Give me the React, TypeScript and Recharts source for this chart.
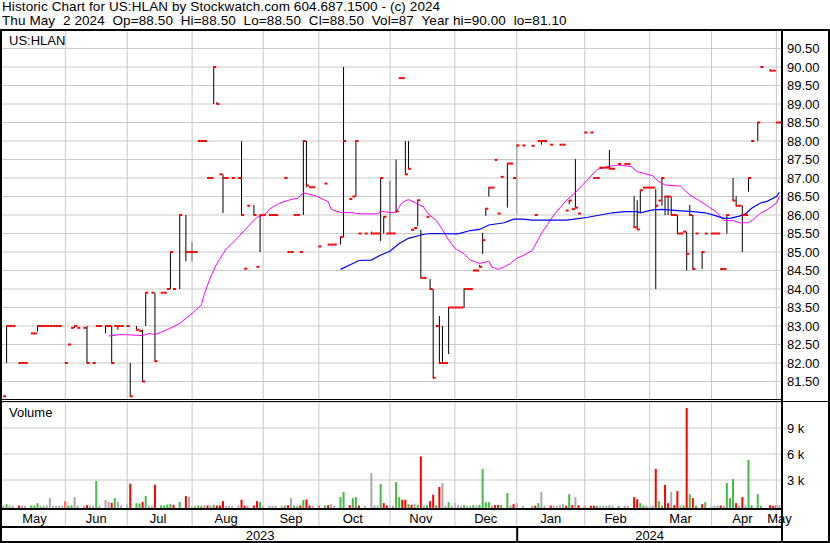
import React from 'react';
import {
  Bar,
  CartesianGrid,
  ComposedChart,
  Line,
  ReferenceLine,
  Scatter,
  XAxis,
  YAxis,
} from 'recharts';

const FONT = '"Liberation Sans", Arial, sans-serif';
const GRID = '#c8c8c8';
const RED = '#ff0000';
const GREEN = '#44bb44';
const GRAY = '#a8a8a8';

// one entry per trading day, 3 May 2023 .. 2 May 2024 (null = no trade)
const closes: (number | null)[] = [
  81.1, 83, 83, 83, null, 82, 82, 82, null, 82.8,
  82.8, 83, 83, 83, 83, 83, 83, 83, 83, null,
  82, 82.5, 82.95, 83, 82.95, null, 82.95, 82, null, 82,
  83, 83, null, 83, 83, 82, 83, 83, 83, null,
  83, 81.1, null, 82.9, 82.87, 81.5, 83.9, null, 83.9, 82.05,
  null, 83.9, 83.9, 84, 85, 84, null, 86, null, 85,
  85, 85, 85, 88, 88, 88, 87, 87, 90, 89,
  87.1, 87, 87, null, 87, null, 87, 86, 84.55, 86.25,
  null, 86, 84.6, 86, 86, null, 86, 86, 86, null,
  null, 87, 85, 85, 86, 86, 85, 88, 86.8, 86.75,
  86.75, null, 85.15, null, 86.85, 85.2, 85.2, 85.2, null, 85.4,
  88, null, 86.43, 86.5, 88, 85.5, null, 85.5, null, 85.5,
  85.5, 85.5, 87, 85.95, 85.5, 85.5, 85.5, 86.1, 89.7, 89.7,
  87.1, 87.25, 85.6, 85.65, 86.4, 84.3, 84.3, 85.95, 84, 81.6,
  83, 82, 82, 82, 83.5, 83.5, 83.5, 83.5, 83.5, 84,
  84, 84, 84.5, 84.5, 84.6, 85.32, 86.17, 86.74, 86.74, 87.49,
  86.04, 87.03, null, 87.39, 87.39, 87, 87.88, null, 87.88, null,
  null, 87.87, 86, 88, 88, 88, null, 87.9, null, null,
  87.9, 87.9, 86.12, 86.39, 86.16, 86.2, 86.04, null, 88.23, null,
  88.23, 87, 87, 87.28, 87.28, 87.28, 87.25, 87.25, null, 87.38,
  null, 87.38, 87.38, null, 85.67, 85.61, 86.67, 86.74, 86.74, 86.74,
  86.74, 86.25, 86.39, 87, 86.5, 86.5, 86, 86, 85.5, 85.5,
  85.55, 84.95, 86, 84.54, 85.5, null, 85, 85.5, null, 85.5,
  85.5, 85.5, 84.54, 84.54, 86, null, 86.39, 86.25, 86.25, 86,
  86, 87, 88, null, 88.5, 90, null, null, 89.9, 89.9,
  88.5, 88.5,
];

// [day, high, low] for days that traded in a range
const wicks: [number, number, number][] = [
  [1, 83, 82], [11, 83, 82.85], [23, 83, 82.95], [27, 83, 82], [33, 83, 82.8],
  [35, 83, 82], [37, 83, 82.9], [41, 82, 81.1], [43, 83, 82.9], [45, 82.9, 81.5],
  [46, 83.9, 83], [49, 83.9, 82.05], [54, 85, 84], [57, 86, 84], [59, 86, 84.75],
  [61, 85.27, 84.75], [68, 90, 89], [69, 89.05, 89], [71, 87.1, 86.05], [77, 88, 86],
  [81, 86.27, 86], [83, 86, 85], [97, 88, 86], [98, 88, 86.75], [109, 85.4, 85.2],
  [110, 90, 85.4], [114, 88, 86.5], [119, 85.55, 85.5], [122, 87, 85.3], [123, 85.95, 85.5],
  [125, 86.92, 85.5], [127, 87.5, 86.06], [130, 88, 87.1], [131, 88, 87.25], [134, 86.4, 85.7],
  [135, 85.6, 84.3], [138, 84.27, 84], [139, 84, 81.6], [141, 83.27, 81.97], [142, 83, 82],
  [144, 83.5, 82.24], [149, 84, 83.5], [154, 84.65, 84.6], [155, 85.52, 84.95], [156, 86.17, 85.98],
  [157, 86.74, 86.5], [163, 87.39, 86.2], [166, 87.88, 86.02], [174, 88, 87.9], [183, 86.4, 86.3],
  [185, 87.51, 86.18], [193, 87.3, 87.25], [196, 87.76, 87.24], [204, 86.51, 85.66], [205, 86.4, 85.61],
  [206, 86.67, 86.06], [211, 86.7, 84], [213, 87, 86.25], [214, 86.51, 86], [215, 86.5, 86],
  [216, 86.5, 86], [218, 86, 85.5], [221, 85.55, 84.5], [222, 86.27, 86], [223, 86, 84.54],
  [226, 85, 84.54], [234, 86, 85.5], [236, 87, 86.39], [237, 86.51, 86.25], [239, 86.25, 85],
  [241, 87, 86.63], [244, 88.5, 88], [248, 89.95, 89.9],
];

const volumes: number[] = [
  60, 210, 40, 40, 0, 60, 30, 30, 0, 60,
  60, 330, 30, 30, 60, 910, 30, 30, 30, 30,
  560, 60, 60, 1025, 30, 0, 30, 100, 30, 30,
  2880, 30, 0, 680, 480, 370, 910, 480, 60, 0,
  210, 2570, 0, 330, 290, 480, 1140, 30, 30, 2450,
  0, 60, 60, 170, 250, 140, 0, 450, 0, 1140,
  1060, 30, 30, 60, 30, 100, 60, 30, 140, 60,
  60, 560, 30, 30, 30, 0, 60, 720, 60, 30,
  0, 60, 560, 480, 30, 0, 30, 30, 30, 0,
  30, 40, 100, 910, 60, 30, 60, 680, 750, 60,
  30, 0, 60, 0, 60, 100, 210, 30, 0, 1025,
  1600, 0, 100, 910, 1025, 60, 0, 30, 0, 3810,
  60, 40, 2530, 330, 60, 60, 30, 2760, 1025, 716,
  716, 210, 140, 210, 140, 5710, 30, 100, 560, 1300,
  100, 2190, 2650, 30, 445, 30, 330, 100, 30, 100,
  30, 30, 100, 30, 100, 4280, 445, 445, 30, 100,
  100, 100, 0, 1490, 30, 210, 330, 0, 30, 0,
  0, 30, 30, 330, 1600, 30, 0, 60, 30, 30,
  100, 210, 30, 1370, 100, 1025, 100, 0, 30, 0,
  30, 30, 30, 30, 30, 30, 100, 30, 0, 30,
  0, 30, 30, 0, 1025, 790, 330, 60, 30, 30,
  30, 4280, 560, 60, 2420, 330, 1600, 100, 1720, 30,
  100, 11320, 1370, 910, 60, 0, 210, 445, 0, 30,
  30, 30, 60, 30, 2650, 910, 3100, 330, 30, 1025,
  30, 5320, 100, 0, 1370, 30, 0, 0, 100, 30,
  100, 87,
];

// g = up day, r = down day, n = unchanged
const volumeColors = [
  'ngnnnrnnng', 'ggnnnnnnnn', 'rggnnnnrnn', 'gnnnnrgnnn', 'nrnggrgnnr',
  'nggggrngnr', 'nnnggnrngr', 'rrnnnnnrrn', 'nrrgnnnnnn', 'ngrngnrgrr',
  'nnrngrnnng', 'gnrggrnnnn', 'nngrrnnggr', 'rgrngrngrr', 'grnngnnnng',
  'nngnggggnr', 'rgngnrgnnn', 'nnrgnnnrnn', 'nnrgrnrngn', 'rrgnnnnnng',
  'nnnnrrggnn', 'nrggrrnrrn', 'grgrgnrgnn', 'nnrngggrnr', 'nggnggnnrr',
  'rn',
].join('');

// moving averages read at sample days
const pinkMA: [number, number][] = [
  [34, 82.73], [38, 82.77], [41, 82.76], [45, 82.74], [47, 82.8], [49, 82.77], [53, 82.9],
  [57, 83.07], [61, 83.34], [64, 83.57], [65, 83.88], [67, 84.33], [69, 84.69], [72, 85.08],
  [75, 85.32], [79, 85.68], [82, 85.94], [84, 85.99], [85, 86.05], [86, 86.16], [89, 86.31],
  [93, 86.42], [95, 86.45], [97, 86.6], [100, 86.54], [102, 86.48], [105, 86.36], [106, 86.15],
  [109, 86.07], [113, 86.06], [115, 86.03], [121, 86.03], [122, 86.1], [126, 86.06], [127, 86.09],
  [129, 86.34], [131, 86.42], [134, 86.3], [136, 86.21], [137, 86.06], [140, 85.85], [142, 85.6],
  [144, 85.32], [146, 85.1], [149, 84.95], [151, 84.78], [154, 84.69], [155, 84.71], [157, 84.75],
  [158, 84.59], [160, 84.53], [162, 84.6], [164, 84.69], [166, 84.83], [168, 84.9], [171, 85.04],
  [174, 85.5], [176, 85.75], [178, 86.0], [182, 86.39], [185, 86.61], [189, 86.96], [192, 87.23],
  [196, 87.32], [199, 87.35], [203, 87.31], [205, 87.17], [207, 87.13], [210, 87.06], [212, 86.9],
  [214, 86.81], [219, 86.78], [222, 86.54], [225, 86.39], [228, 86.23], [231, 86.05], [233, 85.85],
  [236, 85.85], [238, 85.79], [241, 85.79], [243, 85.91], [245, 86.06], [247, 86.14], [250, 86.32],
  [251, 86.5],
];

const blueMA: [number, number][] = [
  [109, 84.53], [113, 84.69], [115, 84.77], [119, 84.78], [122, 84.92], [125, 85.02], [128, 85.23],
  [131, 85.37], [136, 85.48], [138, 85.5], [147, 85.49], [151, 85.58], [154, 85.61], [157, 85.73],
  [162, 85.79], [165, 85.89], [168, 85.89], [171, 85.86], [182, 85.86], [184, 85.88], [189, 85.94],
  [193, 86.0], [197, 86.06], [201, 86.09], [205, 86.09], [206, 86.06], [210, 86.14], [213, 86.15],
  [218, 86.12], [223, 86.09], [227, 86.06], [230, 85.99], [233, 85.91], [235, 85.91], [238, 85.97],
  [240, 86.03], [242, 86.18], [245, 86.33], [247, 86.37], [250, 86.5], [251, 86.61],
];

const monthStarts = [20, 40, 61, 84, 102, 125, 146, 166, 188, 209, 229, 250];
const monthNames = ['May', 'Jun', 'Jul', 'Aug', 'Sep', 'Oct', 'Nov', 'Dec', 'Jan', 'Feb', 'Mar', 'Apr', 'May'];
const yearStarts = [0, 166];
const yearNames = ['2023', '2024'];
const priceTicks = [81.5, 82, 82.5, 83, 83.5, 84, 84.5, 85, 85.5, 86, 86.5, 87, 87.5, 88, 88.5, 89, 89.5, 90, 90.5];
const volumeTicks = [3000, 6000, 9000];

const N = closes.length;

const rows = closes.map((c, i) => ({
  i,
  c,
  hl: null as [number, number] | null,
  v: volumes[i],
  vc: volumeColors[i],
  pm: null as number | null,
  bm: null as number | null,
}));
wicks.forEach(([k, h, l]) => { rows[k].hl = [l, h]; });
pinkMA.forEach(([k, v]) => { rows[k].pm = v; });
blueMA.forEach(([k, v]) => { rows[k].bm = v; });

const monthLabelAt: Record<number, string> = {};
const mb = [0, ...monthStarts, N];
monthNames.forEach((m, j) => { monthLabelAt[Math.floor((mb[j] + mb[j + 1]) / 2)] = m; });
const yearLabelAt: Record<number, string> = {};
const yb = [...yearStarts, N];
yearNames.forEach((y, j) => { yearLabelAt[Math.floor((yb[j] + yb[j + 1]) / 2)] = y; });

function WickShape(p: any) {
  const { x, y, width, height } = p;
  if (p.payload?.hl == null || !isFinite(y)) return <g />;
  const cx = x + width / 2;
  return <rect x={cx - 0.5} y={y} width={1} height={Math.max(height, 1)} fill="#000" />;
}

function CloseShape(p: any) {
  const { cx, cy, payload } = p;
  if (!payload || payload.c == null || !isFinite(cy)) return <g />;
  return <rect x={cx - 0.5} y={cy - 1} width={3} height={2} fill={RED} />;
}

function VolumeShape(p: any) {
  const { x, y, width, height, payload } = p;
  if (!payload || !payload.v) return <g />;
  const fill = payload.vc === 'g' ? GREEN : payload.vc === 'r' ? RED : GRAY;
  return <rect x={x - 0.5} y={y} width={width} height={height + 3} fill={fill} />;
}

function MonthTick(p: any) {
  const { x, y } = p;
  const k = p.payload.value;
  return (
    <g>
      {monthStarts.includes(k) && <line x1={x} x2={x} y1={y} y2={y + 17} stroke={GRID} />}
      {monthLabelAt[k] && (
        <text x={x} y={y + 14} textAnchor="middle" fontSize={13} fill="#000" fontFamily={FONT}>
          {monthLabelAt[k]}
        </text>
      )}
    </g>
  );
}

function YearTick(p: any) {
  const { x, y } = p;
  const k = p.payload.value;
  return (
    <g>
      {k !== 0 && yearStarts.includes(k) && <rect x={x - 0.5} y={y} width={2} height={15} fill="#000" />}
      {yearLabelAt[k] && (
        <text x={x} y={y + 12.5} textAnchor="middle" fontSize={13} fill="#000" fontFamily={FONT}>
          {yearLabelAt[k]}
        </text>
      )}
    </g>
  );
}

const hline = (top: number, width: number, h = 2) => (
  <div style={{ position: 'absolute', left: 0, top, width, height: h, background: '#000' }} />
);
const vline = (left: number) => (
  <div style={{ position: 'absolute', left, top: 30, width: 2, height: 513, background: '#000' }} />
);

export default function App() {
  const tickStyle = { fill: '#000', fontSize: 13, fontFamily: FONT };
  return (
    <div style={{ position: 'absolute', left: 0, top: 0, width: 830, height: 543, background: '#fff', overflow: 'hidden', fontFamily: FONT }}>
      <div style={{ position: 'absolute', top: 0 }}>
        <ComposedChart width={830} height={400} data={rows} margin={{ top: 30, right: 0, bottom: 0, left: 2 }}>
          <CartesianGrid vertical={false} stroke={GRID} />
          {monthStarts.map((k) => <ReferenceLine key={k} x={k} stroke={GRID} />)}
          <XAxis dataKey="i" type="category" hide />
          <YAxis
            orientation="right"
            domain={[81, 91]}
            allowDataOverflow
            ticks={priceTicks}
            interval={0}
            width={49}
            axisLine={false}
            tickLine={false}
            tickSize={6}
            tickMargin={0}
            tick={tickStyle}
            tickFormatter={(v: number) => v.toFixed(2)}
          />
          <Bar dataKey="hl" barSize={1} shape={WickShape} isAnimationActive={false} />
          <Scatter dataKey="c" shape={CloseShape} isAnimationActive={false} />
          <Line dataKey="pm" type="linear" connectNulls dot={false} stroke="#ff00ff" strokeWidth={1} isAnimationActive={false} />
          <Line dataKey="bm" type="linear" connectNulls dot={false} stroke="#0000ff" strokeWidth={1.2} isAnimationActive={false} />
        </ComposedChart>
      </div>
      <div style={{ position: 'absolute', top: 400 }}>
        <ComposedChart width={830} height={143} data={rows} margin={{ top: 2, right: 0, bottom: 0, left: 2 }}>
          <CartesianGrid vertical={false} stroke={GRID} />
          {monthStarts.map((k) => <ReferenceLine key={k} x={k} stroke={GRID} />)}
          <XAxis dataKey="i" type="category" interval={0} height={18} axisLine={false} tickLine={false} tickSize={0} tickMargin={0} tick={(p: any) => <MonthTick {...p} />} />
          <XAxis xAxisId="yr" dataKey="i" type="category" interval={0} height={16} axisLine={false} tickLine={false} tickSize={0} tickMargin={0} tick={(p: any) => <YearTick {...p} />} />
          <YAxis
            orientation="right"
            domain={[-346, 12000]}
            allowDataOverflow
            ticks={volumeTicks}
            interval={0}
            width={49}
            axisLine={false}
            tickLine={false}
            tickSize={6}
            tickMargin={0}
            tick={tickStyle}
            tickFormatter={(v: number) => `${v / 1000} k`}
          />
          <Bar dataKey="v" barSize={2} shape={VolumeShape} isAnimationActive={false} />
        </ComposedChart>
      </div>

      <div style={{ position: 'absolute', left: 2, top: 0, fontSize: 13.5, lineHeight: '14px', letterSpacing: '0.1px', whiteSpace: 'pre', color: '#000' }}>
        {'Historic Chart for US:HLAN by Stockwatch.com 604.687.1500 - (c) 2024\nThu May  2 2024  Op=88.50  Hi=88.50  Lo=88.50  Cl=88.50  Vol=87  Year hi=90.00  lo=81.10'}
      </div>
      <div style={{ position: 'absolute', left: 9, top: 33, fontSize: 13, color: '#000' }}>US:HLAN</div>
      <div style={{ position: 'absolute', left: 9, top: 405, fontSize: 13, color: '#000' }}>Volume</div>

      {hline(29, 830)}
      {hline(399, 781, 1)}
      {hline(401, 830, 1)}
      {hline(508, 781)}
      {hline(526, 781)}
      {hline(541, 830)}
      {vline(0)}
      {vline(781)}
      {vline(828)}
    </div>
  );
}
